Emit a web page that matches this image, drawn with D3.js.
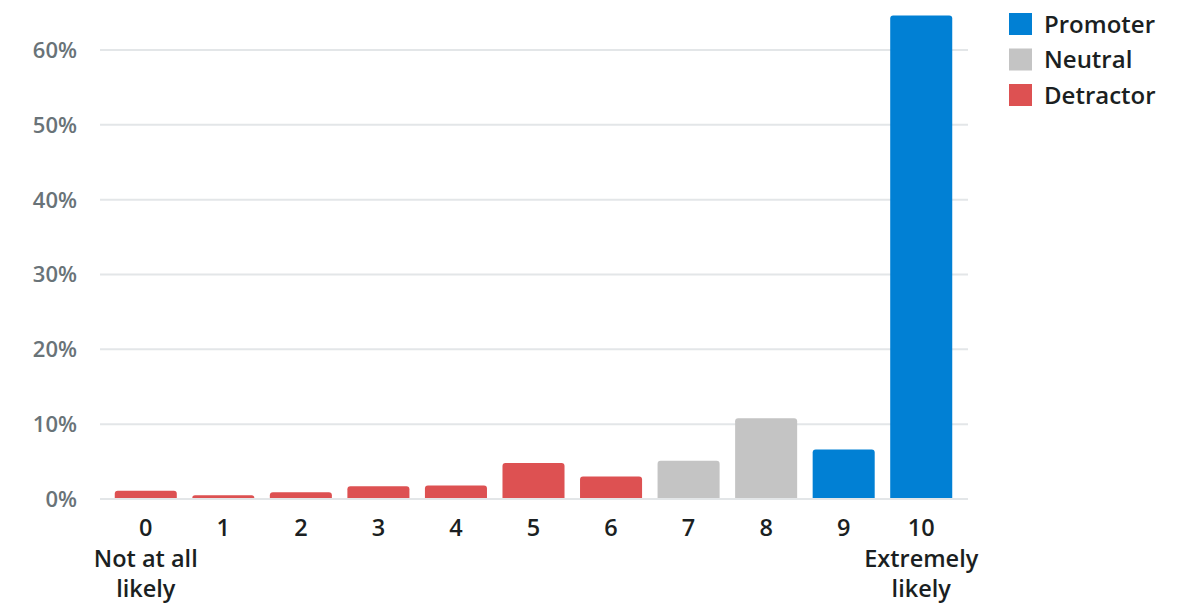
<!DOCTYPE html>
<html><head><meta charset="utf-8">
<script src="https://cdn.jsdelivr.net/npm/d3@7"></script>
<style>
body{margin:0;background:#fff;}
text{font-family:"Open Sans","Noto Sans",sans-serif;}
</style></head><body>
<svg id="chart" width="1181" height="605"></svg>
<script>
const scores = ["0","1","2","3","4","5","6","7","8","9","10"];
const values = [1.1, 0.5, 0.9, 1.7, 1.8, 4.8, 3.0, 5.1, 10.8, 6.6, 64.6];
const groups = ["Detractor","Detractor","Detractor","Detractor","Detractor","Detractor","Detractor","Neutral","Neutral","Promoter","Promoter"];
const subLabels = {"0":["Not at all","likely"], "10":["Extremely","likely"]};
const legendNames = ["Promoter","Neutral","Detractor"];
const legendColors = ["#0180d4","#c4c4c4","#dd5152"];
const yTicks = [0,10,20,30,40,50,60];

const svg = d3.select("#chart");
const x = d3.scaleBand().domain(scores).range([107,960]).paddingInner(0.2).paddingOuter(0.1);
const y = d3.scaleLinear().domain([0,60]).range([499,50]);
const color = d3.scaleOrdinal().domain(legendNames).range(legendColors);

// grid
svg.append("g").selectAll("line").data(yTicks).join("line")
  .attr("x1",100).attr("x2",968)
  .attr("y1",d=>y(d)).attr("y2",d=>y(d))
  .attr("stroke","#e3e6e8").attr("stroke-width",2);

// y labels
svg.append("g").selectAll("text").data(yTicks).join("text")
  .attr("x",77).attr("y",d=>y(d)).attr("dy","0.36em")
  .attr("text-anchor","end").attr("font-size",22).attr("font-weight",600)
  .attr("fill","#697378").text(d=>d+"%");

// bars with rounded top corners
const r = 3;
function barPath(x0,w,yTop,yBot){
  const rr = Math.min(r,(yBot-yTop));
  return `M${x0},${yBot}V${yTop+rr}Q${x0},${yTop} ${x0+rr},${yTop}H${x0+w-rr}Q${x0+w},${yTop} ${x0+w},${yTop+rr}V${yBot}Z`;
}
svg.append("g").selectAll("path").data(scores).join("path")
  .attr("d",(d,i)=>barPath(x(d),x.bandwidth(),y(values[i]),498))
  .attr("fill",(d,i)=>color(groups[i]));

// x labels
const xl = svg.append("g");
scores.forEach(s=>{
  const cx = x(s)+x.bandwidth()/2;
  const t = xl.append("text").attr("x",cx).attr("y",536).attr("text-anchor","middle")
    .attr("font-size",23.5).attr("font-weight",600).attr("fill","#1b1f22");
  t.append("tspan").attr("x",cx).text(s);
  (subLabels[s]||[]).forEach((l,k)=>{
    t.append("tspan").attr("x",cx).attr("y",567+30*k).text(l);
  });
});

// legend
const lg = svg.append("g").selectAll("g").data(legendNames).join("g")
  .attr("transform",(d,i)=>`translate(1009,${13+35.5*i})`);
lg.append("rect").attr("width",23).attr("height",22).attr("fill",d=>color(d));
lg.append("text").attr("x",35).attr("y",11).attr("dy","0.36em")
  .attr("font-size",24).attr("font-weight",600).attr("fill","#1b1f22").text(d=>d);
</script>
</body></html>
